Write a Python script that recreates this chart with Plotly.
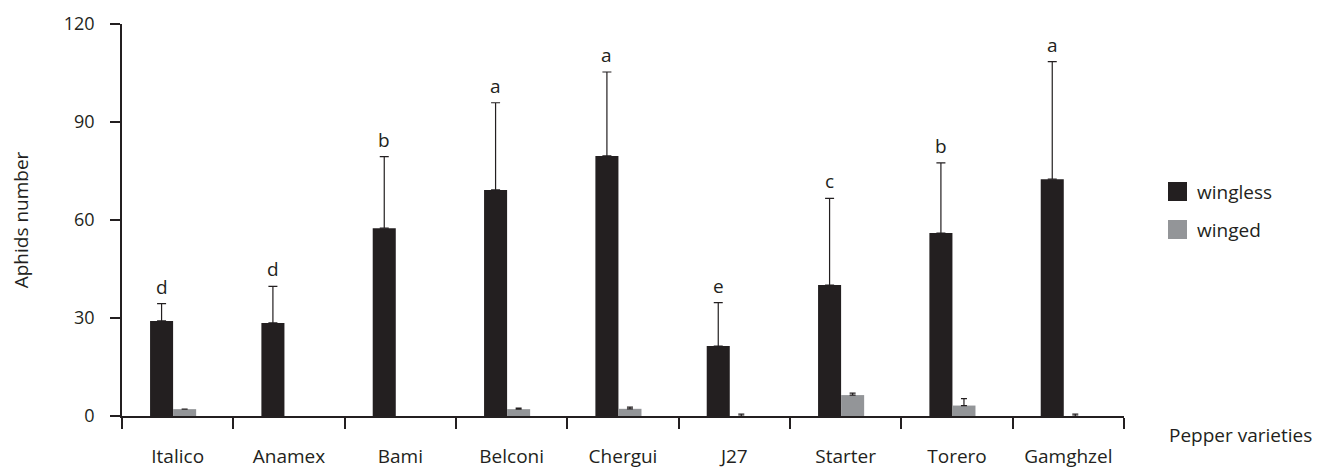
import plotly.graph_objects as go

varieties = ["Italico", "Anamex", "Bami", "Belconi", "Chergui", "J27", "Starter", "Torero", "Gamghzel"]
wingless = [29.1, 28.5, 57.5, 69.2, 79.6, 21.4, 40.1, 56.0, 72.5]
wingless_err = [5.3, 11.2, 21.9, 26.7, 25.7, 13.3, 26.5, 21.5, 36.0]
winged = [2.1, None, None, 2.1, 2.2, 0, 6.4, 3.2, 0]
winged_err = [None, None, None, 0.3, 0.5, 0.6, 0.6, 2.1, 0.6]
letters = ["d", "d", "b", "a", "a", "e", "c", "b", "a"]
series_names = ["wingless", "winged"]

BLACK = "#231f20"
GRAY = "#939598"
FONT = "Open Sans"
BW = 0.207
OFF_B = -0.248
OFF_G = -0.041

fig = go.Figure()
fig.add_trace(go.Bar(
    name=series_names[0], x=varieties, y=wingless, width=BW, offset=OFF_B,
    marker=dict(color=BLACK, line=dict(width=0)), showlegend=False,
    error_y=dict(type="data", array=wingless_err, arrayminus=[0] * len(varieties),
                 symmetric=False, color=BLACK, thickness=1.2, width=4.5),
))
fig.add_trace(go.Bar(
    name=series_names[1], x=varieties, y=winged, width=BW, offset=OFF_G,
    marker=dict(color=GRAY, line=dict(width=0)), showlegend=False,
    error_y=dict(type="data", array=winged_err, arrayminus=[0] * len(varieties),
                 symmetric=False, color=BLACK, thickness=1.2, width=3),
))

for i, (v, e, l) in enumerate(zip(wingless, wingless_err, letters)):
    fig.add_annotation(x=i + OFF_B + BW / 2, y=v + e, text=l, showarrow=False,
                       yshift=17, yanchor="middle",
                       font=dict(family=FONT, size=19, color=BLACK))

# manual legend (larger swatches, like the reference)
legend_rows = [(series_names[0], BLACK, 0.5969, 0.5485, 0.5714),
               (series_names[1], GRAY, 0.5, 0.4515, 0.4745)]
for name, col, y1, y0, yt in legend_rows:
    fig.add_shape(type="rect", xref="paper", yref="paper", x0=1.0439, x1=1.0629,
                  y0=y0, y1=y1, fillcolor=col, line=dict(width=0))
    fig.add_annotation(x=1.0705, y=yt, xref="paper", yref="paper", text=name,
                       showarrow=False, xanchor="left", yanchor="middle",
                       font=dict(family=FONT, size=19, color=BLACK))

fig.add_annotation(x=1.0429, y=-0.0485, xref="paper", yref="paper", text="Pepper varieties",
                   showarrow=False, xanchor="left", yanchor="middle",
                   font=dict(family=FONT, size=19, color=BLACK))

fig.update_layout(
    width=1324, height=467,
    margin=dict(l=114, r=208, t=16, b=59, autoexpand=False),
    plot_bgcolor="white", paper_bgcolor="white",
    barmode="overlay",
    font=dict(family=FONT, size=17, color=BLACK),
    showlegend=False,
    xaxis=dict(range=[-0.5, 8.5], showline=True, linecolor=BLACK, linewidth=1.5,
               ticks="outside", tickson="boundaries", ticklen=11, tickcolor=BLACK,
               tickwidth=1.5, showgrid=False, zeroline=False, ticklabelstandoff=22,
               automargin=False,
               tickfont=dict(family=FONT, size=19, color=BLACK)),
    yaxis=dict(range=[0, 120], tickvals=[0, 30, 60, 90, 120], showline=True,
               linecolor=BLACK, linewidth=1.5, ticks="outside", ticklen=10,
               tickcolor=BLACK, tickwidth=1.5, showgrid=False, zeroline=False,
               ticklabelstandoff=12, automargin=False,
               tickfont=dict(family=FONT, size=18, color=BLACK),
               title=dict(text="Aphids number", standoff=31,
                          font=dict(family=FONT, size=19, color=BLACK))),
)

fig.write_html("out.html")
